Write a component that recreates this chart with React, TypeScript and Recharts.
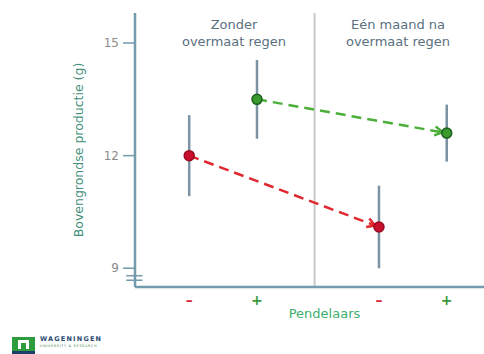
import React from "react";
import {
  ComposedChart,
  XAxis,
  YAxis,
  Line,
  Scatter,
  ErrorBar,
  ReferenceLine,
} from "recharts";

// slot positions on the x axis (two groups of -/+)
const positions = [1, 2, 3.8, 4.8];
const tickSigns = ["–", "+", "–", "+"];
const signColors = ["#d8283a", "#3a9a3a", "#d8283a", "#3a9a3a"];

// zonder pendelaars (red) and met pendelaars (green)
const redX = [1, 3.8];
const redY = [12.0, 10.1];
const redErr = [1.08, 1.1];
const greenX = [2, 4.8];
const greenY = [13.5, 12.6];
const greenErr = [1.05, 0.76];

const yTicks = [9, 12, 15];
const separatorX = 2.85;
const breakMarks = [8.8, 8.68];

const headers = [
  { lines: ["Zonder", "overmaat regen"], center: 234 },
  { lines: ["Eén maand na", "overmaat regen"], center: 398 },
];

const red = redX.map((x, i) => ({ x, y: redY[i], err: redErr[i] }));
const green = greenX.map((x, i) => ({ x, y: greenY[i], err: greenErr[i] }));

const AXIS = "#739aad";
const ERR = "#7c93a3";
const FONT = "'DejaVu Sans', Verdana, sans-serif";

const SignTick = (props: any) => {
  const { x, y, index } = props;
  return (
    <text
      x={x}
      y={y}
      dy={10}
      textAnchor="middle"
      fill={signColors[index]}
      fontSize={14}
      fontWeight="bold"
      fontFamily={FONT}
    >
      {tickSigns[index]}
    </text>
  );
};

const Dot = (color: string, edge: string) => (props: any) => {
  const { cx, cy } = props;
  return <circle cx={cx} cy={cy} r={5} fill={color} stroke={edge} strokeWidth={1.5} />;
};

export default function App() {
  return (
    <div
      style={{
        position: "absolute",
        left: 0,
        top: 0,
        width: 484,
        height: 354,
        background: "#fff",
        fontFamily: FONT,
        overflow: "hidden",
      }}
    >
      <ComposedChart
        width={484}
        height={354}
        margin={{ top: 13, right: 0, bottom: 27, left: 66 }}
      >
        <defs>
          <marker
            id="arrowRed"
            markerWidth={10}
            markerHeight={11}
            refX={13}
            refY={5.5}
            orient="auto"
            markerUnits="userSpaceOnUse"
            overflow="visible"
          >
            <path d="M1,1 L9,5.5 L1,10" fill="none" stroke="#e0282f" strokeWidth={2.5} strokeDasharray="none" />
          </marker>
          <marker
            id="arrowGreen"
            markerWidth={10}
            markerHeight={11}
            refX={13}
            refY={5.5}
            orient="auto"
            markerUnits="userSpaceOnUse"
            overflow="visible"
          >
            <path d="M1,1 L9,5.5 L1,10" fill="none" stroke="#4caf3a" strokeWidth={2.5} strokeDasharray="none" />
          </marker>
        </defs>
        <XAxis
          type="number"
          dataKey="x"
          domain={[0.2, 5.35]}
          allowDataOverflow
          ticks={positions}
          interval={0}
          tick={<SignTick />}
          tickLine={false}
          axisLine={{ stroke: AXIS, strokeWidth: 2.5 }}
          height={40}
          label={{
            value: "Pendelaars",
            position: "insideBottom",
            offset: 9,
            dx: 15,
            fill: "#3fae6f",
            fontSize: 13,
            fontFamily: FONT,
          }}
        />
        <YAxis
          type="number"
          dataKey="y"
          domain={[8.5, 15.8]}
          allowDataOverflow
          ticks={yTicks}
          width={69}
          tickSize={12}
          tickMargin={4}
          tick={{ fill: "#8a8a8a", fontSize: 12, fontFamily: FONT }}
          tickLine={{ stroke: AXIS, strokeWidth: 1.5 }}
          axisLine={{ stroke: AXIS, strokeWidth: 2.5 }}
          label={{
            value: "Bovengrondse productie (g)",
            angle: -90,
            position: "insideLeft",
            offset: 13,
            fill: "#3f8f7a",
            fontSize: 12.5,
            fontFamily: FONT,
            style: { textAnchor: "middle" },
          }}
        />
        <ReferenceLine x={separatorX} stroke="#c9c9c9" strokeWidth={2} />
        {breakMarks.map((b) => (
          <ReferenceLine
            key={b}
            segment={[
              { x: 0.07, y: b },
              { x: 0.31, y: b },
            ]}
            stroke={AXIS}
            strokeWidth={1.5}
            ifOverflow="visible"
          />
        ))}
        <Line
          data={red}
          dataKey="y"
          stroke="#e0282f"
          strokeWidth={2.5}
          strokeDasharray="10 6"
          dot={false}
          activeDot={false}
          markerEnd="url(#arrowRed)"
          isAnimationActive={false}
        />
        <Line
          data={green}
          dataKey="y"
          stroke="#4caf3a"
          strokeWidth={2.5}
          strokeDasharray="10 6"
          dot={false}
          activeDot={false}
          markerEnd="url(#arrowGreen)"
          isAnimationActive={false}
        />
        <Scatter data={red} dataKey="y" shape={Dot("#c8102e", "#9a0a20")} isAnimationActive={false}>
          <ErrorBar dataKey="err" direction="y" width={0} stroke={ERR} strokeWidth={2.5} />
        </Scatter>
        <Scatter data={green} dataKey="y" shape={Dot("#3a9a2e", "#1e5f1e")} isAnimationActive={false}>
          <ErrorBar dataKey="err" direction="y" width={0} stroke={ERR} strokeWidth={2.5} />
        </Scatter>
      </ComposedChart>

      {headers.map((h) => (
        <div
          key={h.center}
          style={{
            position: "absolute",
            left: h.center - 80,
            top: 16,
            width: 160,
            textAlign: "center",
            color: "#5a7080",
            fontSize: 13,
            lineHeight: "17px",
          }}
        >
          {h.lines.map((l) => (
            <div key={l}>{l}</div>
          ))}
        </div>
      ))}

      <div style={{ position: "absolute", left: 12, top: 337, width: 23, height: 17, background: "#2e9b3c" }}>
        <div style={{ position: "absolute", left: 6, top: 3, width: 11, height: 9, background: "#fff" }} />
        <div style={{ position: "absolute", left: 9, top: 6, width: 5, height: 11, background: "#2e9b3c" }} />
        <div style={{ position: "absolute", left: 0, top: 14, width: 23, height: 3, background: "#1e3f6a" }} />
      </div>
      <div
        style={{
          position: "absolute",
          left: 40,
          top: 335,
          fontSize: 6.5,
          letterSpacing: 1.2,
          color: "#2a4a70",
          fontWeight: "bold",
          whiteSpace: "nowrap",
        }}
      >
        WAGENINGEN
      </div>
      <div
        style={{
          position: "absolute",
          left: 40,
          top: 344,
          fontSize: 3.5,
          letterSpacing: 0.6,
          color: "#4c8a5a",
          whiteSpace: "nowrap",
        }}
      >
        UNIVERSITY &amp; RESEARCH
      </div>
    </div>
  );
}
